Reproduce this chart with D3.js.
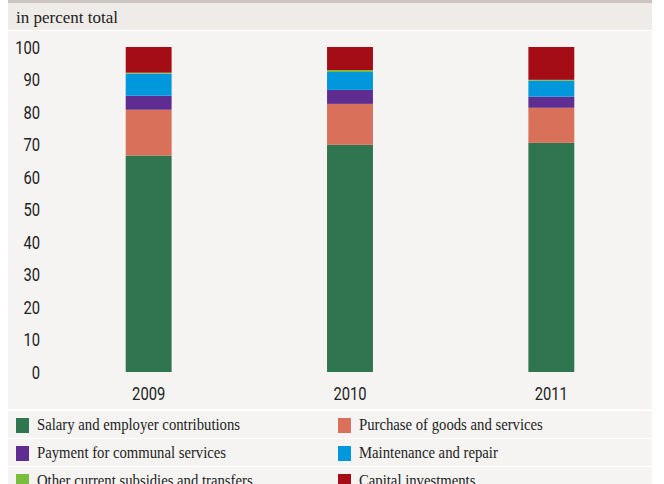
<!DOCTYPE html>
<html>
<head>
<meta charset="utf-8">
<script src="https://cdn.jsdelivr.net/npm/d3@7"></script>
<style>
  html, body { margin: 0; padding: 0; background: #ffffff; }
  svg { display: block; }
</style>
</head>
<body>
<svg id="chart" width="664" height="484"></svg>
<script>
// Budget structure by year, share of total (%)
const years = ["2009", "2010", "2011"];
const seriesNames = [
  "Salary and employer contributions",
  "Purchase of goods and services",
  "Payment for communal services",
  "Maintenance and repair",
  "Other current subsidies and transfers",
  "Capital investments"
];
const salary      = [66.6, 69.9, 70.5];
const purchase    = [14.1, 12.6, 10.8];
const communal    = [4.3, 4.3, 3.4];
const maintenance = [6.8, 5.5, 4.9];
const subsidies   = [0.3, 0.6, 0.3];
const capital     = [7.9, 7.1, 10.1];
const yTicks = [0, 10, 20, 30, 40, 50, 60, 70, 80, 90, 100];
const colors = ["#2e7550", "#d9705a", "#5f2d91", "#0097dc", "#78be3c", "#a50d16"];

const seriesValues = [salary, purchase, communal, maintenance, subsidies, capital];
const rows = years.map((y, i) => {
  const r = { year: y };
  seriesNames.forEach((s, k) => { r[s] = seriesValues[k][i]; });
  return r;
});

const svg = d3.select("#chart");
const panelX = 8, panelW = 644;

// frame: top rule, title band, plot panel
svg.append("rect").attr("x", panelX).attr("y", 0).attr("width", panelW).attr("height", 3).attr("fill", "#cbc3bf");
svg.append("rect").attr("x", panelX).attr("y", 3).attr("width", panelW).attr("height", 27).attr("fill", "#eeebe9");
svg.append("rect").attr("x", panelX).attr("y", 31).attr("width", panelW).attr("height", 378).attr("fill", "#f5f4f2");

const serif = "'Liberation Serif', 'DejaVu Serif', serif";
const sans = "Roboto, 'DejaVu Sans Condensed', sans-serif";

// condensed serif text via horizontal scaling
function serifText(g, x, y, txt, size, sx) {
  return g.append("text")
    .attr("transform", `translate(${x},${y}) scale(${sx},1)`)
    .attr("font-family", serif)
    .attr("font-size", size)
    .attr("fill", "#222")
    .text(txt);
}

serifText(svg, 16, 23, "in percent total", 17, 1.0);

const x = d3.scaleBand().domain(years).range([48, 652]).paddingInner(0.772).paddingOuter(0.386);
const y = d3.scaleLinear().domain([0, 100]).range([372, 47]);

const stacked = d3.stack().keys(seriesNames)(rows);

svg.append("g").selectAll("g")
  .data(stacked)
  .join("g")
  .attr("fill", (d, i) => colors[i])
  .selectAll("rect")
  .data(d => d)
  .join("rect")
  .attr("x", d => x(d.data.year))
  .attr("width", x.bandwidth())
  .attr("y", d => y(d[1]))
  .attr("height", d => y(d[0]) - y(d[1]));

// y axis labels (narrowed sans)
const yAxis = d3.axisLeft(y).tickValues(yTicks).tickSize(0).tickPadding(0);
const yg = svg.append("g").attr("transform", "translate(40,0)").call(yAxis);
yg.select(".domain").remove();
yg.selectAll("text").attr("font-family", sans).attr("font-size", 18).attr("fill", "#222")
  .attr("dy", "0.36em").attr("transform", "scale(0.82,1)");

// x axis labels
const xAxis = d3.axisBottom(x).tickSize(0).tickPadding(0);
const xg = svg.append("g").attr("transform", "translate(0,387)").call(xAxis);
xg.select(".domain").remove();
xg.selectAll("text").attr("font-family", sans).attr("font-size", 18).attr("fill", "#222")
  .attr("dy", "0.71em").attr("transform", "scale(0.82,1)");

// legend rows
const legendTop = 410, rowH = 28;
for (let r = 0; r < 3; r++) {
  svg.append("rect").attr("x", panelX).attr("y", legendTop + r * rowH + 1)
    .attr("width", panelW).attr("height", rowH - 1).attr("fill", "#f5f4f2");
}
const lg = svg.append("g");
seriesNames.forEach((name, i) => {
  const col = i % 2, row = Math.floor(i / 2);
  const lx = col === 0 ? 16 : 338;
  const ly = legendTop + row * rowH;
  lg.append("rect").attr("x", lx).attr("y", ly + 8).attr("width", 13).attr("height", 15).attr("fill", colors[i]);
  serifText(lg, lx + 21, ly + 20, name, 16, 0.92);
});
</script>
</body>
</html>
